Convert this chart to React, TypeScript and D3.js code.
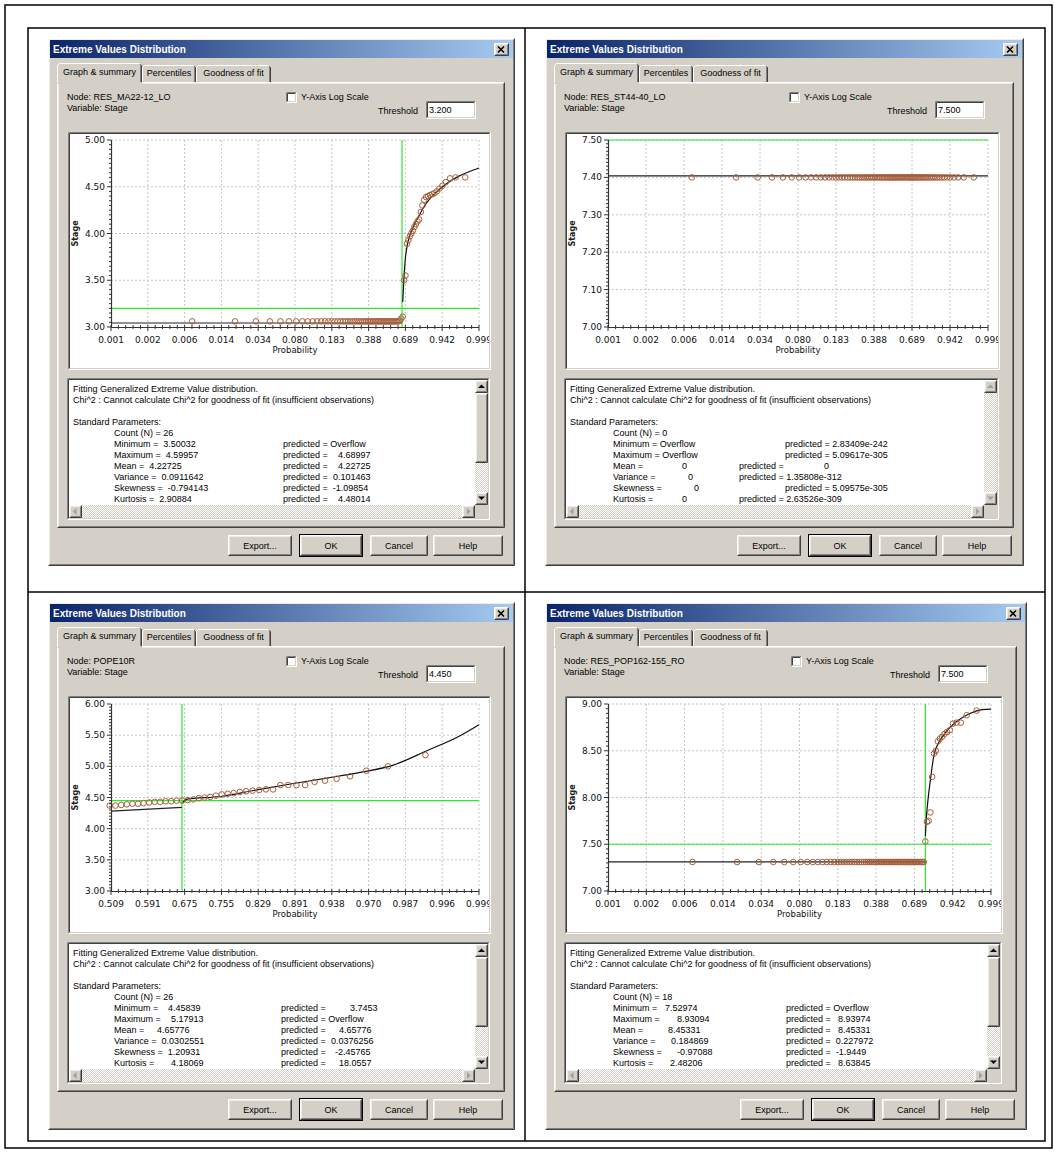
import React from "react";
import * as d3 from "d3";

// ---------- data ----------

// plotting positions (non-exceedance probability) of the 80 ranked observations
const plotPositions = [
  0.0070, 0.0195, 0.0320, 0.0444, 0.0569, 0.0694, 0.0819, 0.0944, 0.1068, 0.1193,
  0.1318, 0.1443, 0.1568, 0.1692, 0.1817, 0.1942, 0.2067, 0.2192, 0.2317, 0.2441,
  0.2566, 0.2691, 0.2816, 0.2941, 0.3065, 0.3190, 0.3315, 0.3440, 0.3565, 0.3689,
  0.3814, 0.3939, 0.4064, 0.4189, 0.4314, 0.4438, 0.4563, 0.4688, 0.4813, 0.4938,
  0.5062, 0.5187, 0.5312, 0.5437, 0.5562, 0.5686, 0.5811, 0.5936, 0.6061, 0.6186,
  0.6311, 0.6435, 0.6560, 0.6685, 0.6810, 0.6935, 0.7059, 0.7184, 0.7309, 0.7434,
  0.7559, 0.7683, 0.7808, 0.7933, 0.8058, 0.8183, 0.8308, 0.8432, 0.8557, 0.8682,
  0.8807, 0.8932, 0.9056, 0.9181, 0.9306, 0.9431, 0.9556, 0.9681, 0.9805, 0.9930,
];

const probTicksFull = ["0.001", "0.002", "0.006", "0.014", "0.034", "0.080", "0.183", "0.388", "0.689", "0.942", "0.999"];
const probTicksUpper = ["0.509", "0.591", "0.675", "0.755", "0.829", "0.891", "0.938", "0.970", "0.987", "0.996", "0.999"];

const tlStageTicks = [3.0, 3.5, 4.0, 4.5, 5.0];
const trStageTicks = [7.0, 7.1, 7.2, 7.3, 7.4, 7.5];
const blStageTicks = [3.0, 3.5, 4.0, 4.5, 5.0, 5.5, 6.0];
const brStageTicks = [7.0, 7.5, 8.0, 8.5, 9.0];

// observed stages, ranked (same order as plotPositions)
const tlStage = [
  3.06, 3.06, 3.06, 3.06, 3.06, 3.06, 3.06, 3.06, 3.06, 3.06,
  3.06, 3.06, 3.06, 3.06, 3.06, 3.06, 3.06, 3.06, 3.06, 3.06,
  3.06, 3.06, 3.06, 3.06, 3.06, 3.06, 3.06, 3.06, 3.06, 3.06,
  3.06, 3.06, 3.06, 3.06, 3.06, 3.06, 3.06, 3.06, 3.06, 3.06,
  3.06, 3.06, 3.06, 3.06, 3.06, 3.06, 3.06, 3.06, 3.06, 3.06,
  3.06, 3.07, 3.09, 3.11, 3.50, 3.55, 3.89, 3.93, 3.97, 4.00,
  4.03, 4.07, 4.10, 4.13, 4.15, 4.23, 4.30, 4.36, 4.39, 4.40,
  4.41, 4.42, 4.43, 4.45, 4.48, 4.51, 4.55, 4.59, 4.60, 4.60,
];
const trStage = [
  7.40, 7.40, 7.40, 7.40, 7.40, 7.40, 7.40, 7.40, 7.40, 7.40,
  7.40, 7.40, 7.40, 7.40, 7.40, 7.40, 7.40, 7.40, 7.40, 7.40,
  7.40, 7.40, 7.40, 7.40, 7.40, 7.40, 7.40, 7.40, 7.40, 7.40,
  7.40, 7.40, 7.40, 7.40, 7.40, 7.40, 7.40, 7.40, 7.40, 7.40,
  7.40, 7.40, 7.40, 7.40, 7.40, 7.40, 7.40, 7.40, 7.40, 7.40,
  7.40, 7.40, 7.40, 7.40, 7.40, 7.40, 7.40, 7.40, 7.40, 7.40,
  7.40, 7.40, 7.40, 7.40, 7.40, 7.40, 7.40, 7.40, 7.40, 7.40,
  7.40, 7.40, 7.40, 7.40, 7.40, 7.40, 7.40, 7.40, 7.40, 7.40,
];
// only ranks 41..80 fall inside this chart's probability range
const blStage = [
  4.37, 4.37, 4.38, 4.39, 4.40, 4.40, 4.41, 4.42, 4.43, 4.43,
  4.44, 4.44, 4.45, 4.45, 4.46, 4.47, 4.49, 4.50, 4.51, 4.53,
  4.55, 4.56, 4.57, 4.59, 4.60, 4.61, 4.62, 4.63, 4.63, 4.70,
  4.70, 4.70, 4.70, 4.75, 4.77, 4.80, 4.84, 4.93, 5.00, 5.18,
];
const brStage = [
  7.31, 7.31, 7.31, 7.31, 7.31, 7.31, 7.31, 7.31, 7.31, 7.31,
  7.31, 7.31, 7.31, 7.31, 7.31, 7.31, 7.31, 7.31, 7.31, 7.31,
  7.31, 7.31, 7.31, 7.31, 7.31, 7.31, 7.31, 7.31, 7.31, 7.31,
  7.31, 7.31, 7.31, 7.31, 7.31, 7.31, 7.31, 7.31, 7.31, 7.31,
  7.31, 7.31, 7.31, 7.31, 7.31, 7.31, 7.31, 7.31, 7.31, 7.31,
  7.31, 7.31, 7.31, 7.31, 7.31, 7.31, 7.31, 7.31, 7.31, 7.31,
  7.31, 7.31, 7.53, 7.74, 7.75, 7.84, 8.22, 8.47, 8.50, 8.60,
  8.63, 8.65, 8.68, 8.70, 8.72, 8.79, 8.80, 8.80, 8.88, 8.93,
];

// fitted lines (below threshold, and the GEV fit above it)
const tlLowerProb = [0.001, 0.663];
const tlLowerStage = [3.043, 3.043];
const tlFitProb = [0.669, 0.6778, 0.6924, 0.7151, 0.7488, 0.8022, 0.8504, 0.9104, 0.9532, 0.9852, 0.9952, 0.999];
const tlFitStage = [3.268, 3.486, 3.736, 3.914, 4.04, 4.182, 4.307, 4.432, 4.522, 4.611, 4.658, 4.701];

const trLowerProb = [0.001, 0.999];
const trLowerStage = [7.404, 7.404];

const blLowerProb = [0.509, 0.668];
const blLowerStage = [4.281, 4.34];
const blFitProb = [0.6695, 0.6793, 0.7526, 0.8265, 0.8887, 0.9327, 0.9636, 0.9829, 0.9933, 0.99786, 0.999];
const blFitStage = [4.42, 4.473, 4.516, 4.623, 4.725, 4.811, 4.902, 5.02, 5.25, 5.491, 5.668];

const brLowerProb = [0.001, 0.7812];
const brLowerStage = [7.311, 7.311];
const brFitProb = [0.7812, 0.7863, 0.8014, 0.819, 0.8421, 0.874, 0.9108, 0.9524, 0.9841, 0.99642, 0.999];
const brFitStage = [7.589, 7.732, 7.982, 8.196, 8.446, 8.589, 8.696, 8.804, 8.893, 8.939, 8.946];

const nodeNames = ["RES_MA22-12_LO", "RES_ST44-40_LO", "POPE10R", "RES_POP162-155_RO"];
const thresholds = ["3.200", "7.500", "4.450", "7.500"];
const thresholdStages = [3.2, 7.5, 4.45, 7.5];
const thresholdProbs = [0.663, null, 0.668, 0.781];
const counts = ["26", "0", "26", "18"];

const statLabels = ["Minimum =", "Maximum =", "Mean =", "Variance =", "Skewness =", "Kurtosis ="];
const tlObserved = ["3.50032", "4.59957", "4.22725", "0.0911642", "-0.794143", "2.90884"];
const tlPredicted = ["Overflow", "4.68997", "4.22725", "0.101463", "-1.09854", "4.48014"];
const trObserved = ["Overflow", "Overflow", "0", "0", "0", "0"];
const trPredicted = ["2.83409e-242", "5.09617e-305", "0", "1.35808e-312", "5.09575e-305", "2.63526e-309"];
const blObserved = ["4.45839", "5.17913", "4.65776", "0.0302551", "1.20931", "4.18069"];
const blPredicted = ["3.7453", "Overflow", "4.65776", "0.0376256", "-2.45765", "18.0557"];
const brObserved = ["7.52974", "8.93094", "8.45331", "0.184869", "-0.97088", "2.48206"];
const brPredicted = ["Overflow", "8.93974", "8.45331", "0.227972", "-1.9449", "8.63845"];

// ---------- look ----------
const UI_FONT = "'Liberation Sans', Arial, sans-serif";
const CHART_FONT = "'DejaVu Sans', Verdana, sans-serif";
const UI_SIZE = 9;
const FACE = "#d4d0c8";
const GREEN = "#2ee82e";
const POINT = "#a65e3b";

// probability paper: x is linear in ln(-ln(1-p))
const gumbelZ = (p: number) => Math.log(-Math.log(1 - p));

let measureCtx: CanvasRenderingContext2D | null = null;
function textWidth(s: string) {
  if (!measureCtx) measureCtx = document.createElement("canvas").getContext("2d");
  if (!measureCtx) return s.length * UI_SIZE * 0.5;
  measureCtx.font = `${UI_SIZE}px "Liberation Sans", Arial, sans-serif`;
  return measureCtx.measureText(s).width;
}

const panels = [
  {
    x: 48, y: 38, w: 467, labelX: 47,
    valX: [90, 95, 81, 84, 92, 91], predX: [216, 216, 216, 216, 216, 216], predValX: [null, 271, 271, 266, 265, 271],
    observed: tlObserved, predicted: tlPredicted, scroll: true,
    chart: {
      pMin: 0.001, pMax: 0.999, xLabels: probTicksFull, yTicks: tlStageTicks, yMinor: 0.05,
      points: [plotPositions, tlStage], lower: [tlLowerProb, tlLowerStage], fit: [tlFitProb, tlFitStage],
    },
  },
  {
    x: 545, y: 38, w: 479, labelX: 49,
    valX: [null, null, 118, 124, 130, 118], predX: [221, 221, 175, 175, 221, 175], predValX: [null, null, 260, null, null, null],
    observed: trObserved, predicted: trPredicted, scroll: false,
    chart: {
      pMin: 0.001, pMax: 0.999, xLabels: probTicksFull, yTicks: trStageTicks, yMinor: 0.01,
      points: [plotPositions, trStage], lower: [trLowerProb, trLowerStage], fit: null,
    },
  },
  {
    x: 48, y: 602, w: 467, labelX: 47,
    valX: [101, 104, 90, 83, 99, 104], predX: [214, 214, 214, 214, 214, 214], predValX: [283, null, 272, 264, 268, 272],
    observed: blObserved, predicted: blPredicted, scroll: true,
    chart: {
      pMin: 0.509, pMax: 0.999, xLabels: probTicksUpper, yTicks: blStageTicks, yMinor: 0.05,
      points: [plotPositions.slice(40), blStage], lower: [blLowerProb, blLowerStage], fit: [blFitProb, blFitStage],
    },
  },
  {
    x: 545, y: 602, w: 482, labelX: 49,
    valX: [101, 113, 104, 107, 113, 106], predX: [222, 222, 222, 222, 222, 222], predValX: [null, 274, 274, 268, 268, 274],
    observed: brObserved, predicted: brPredicted, scroll: true,
    chart: {
      pMin: 0.001, pMax: 0.999, xLabels: probTicksFull, yTicks: brStageTicks, yMinor: 0.05,
      points: [plotPositions, brStage], lower: [brLowerProb, brLowerStage], fit: [brFitProb, brFitStage],
    },
  },
];

function Bevel({ x, y, w, h, kind, fill }: any) {
  const c = kind === "raised"
    ? ["#ffffff", "#404040", "#eeece8", "#808080"]
    : ["#808080", "#ffffff", "#404040", FACE];
  const x1 = x + 0.5, y1 = y + 0.5, x2 = x + w - 0.5, y2 = y + h - 0.5;
  return (
    <g>
      <rect x={x} y={y} width={w} height={h} fill={fill} />
      <path d={`M${x1},${y2}V${y1}H${x2}`} stroke={c[0]} fill="none" />
      <path d={`M${x1},${y2}H${x2}V${y1}`} stroke={c[1]} fill="none" />
      <path d={`M${x1 + 1},${y2 - 1}V${y1 + 1}H${x2 - 1}`} stroke={c[2]} fill="none" />
      <path d={`M${x1 + 1},${y2 - 1}H${x2 - 1}V${y1 + 1}`} stroke={c[3]} fill="none" />
    </g>
  );
}

function Button({ x, y, w, label, isDefault }: any) {
  return (
    <g>
      {isDefault && <rect x={x - 0.5} y={y - 0.5} width={w + 1} height={22} fill="none" stroke="#000" />}
      <Bevel x={x} y={y} w={w} h={21} kind="raised" fill={FACE} />
      <text x={x + w / 2} y={y + 14} textAnchor="middle">{label}</text>
    </g>
  );
}

function Tab({ x, y, w, bottom, label, selected }: any) {
  const x1 = x + 0.5, x2 = x + w - 0.5, y1 = y + 0.5;
  return (
    <g>
      <rect x={x} y={y} width={w} height={bottom - y + (selected ? 2 : 0)} fill={FACE} />
      <path d={`M${x1},${bottom + (selected ? 1 : 0)}V${y1 + 2}L${x1 + 2},${y1}H${x2 - 2}`} stroke="#fff" fill="none" />
      <path d={`M${x2 - 1},${y1 + 1}V${bottom}`} stroke="#808080" fill="none" />
      <path d={`M${x2 - 1},${y1 + 1}L${x2},${y1 + 2}V${bottom}`} stroke="#404040" fill="none" />
      <text x={x + w / 2} y={y + (selected ? 12 : 11)} textAnchor="middle">{label}</text>
    </g>
  );
}

function Arrow({ cx, cy, dir, color }: any) {
  const d = {
    up: `M${cx - 3.5},${cy + 2}L${cx + 3.5},${cy + 2}L${cx},${cy - 1.5}Z`,
    down: `M${cx - 3.5},${cy - 1.5}L${cx + 3.5},${cy - 1.5}L${cx},${cy + 2}Z`,
    left: `M${cx + 1.5},${cy - 3.5}L${cx + 1.5},${cy + 3.5}L${cx - 2},${cy}Z`,
    right: `M${cx - 1.5},${cy - 3.5}L${cx - 1.5},${cy + 3.5}L${cx + 2},${cy}Z`,
  }[dir as "up"];
  return <path d={d} fill={color} />;
}

function TextBox({ x, y, w, h, enabled, children }: any) {
  const s = 13;
  const vx = x + w - 2 - s, vy = y + 2, vh = h - 4 - s;
  const hx = x + 2, hy = y + h - 2 - s, hw = w - 4 - s;
  const arrowCol = enabled ? "#000" : "#a0a0a0";
  return (
    <g>
      <Bevel x={x} y={y} w={w} h={h} kind="sunken" fill="#fff" />
      {children}
      <rect x={vx} y={vy} width={s} height={vh} fill="url(#dither)" />
      <Bevel x={vx} y={vy} w={s} h={s} kind="raised" fill={FACE} />
      <Arrow cx={vx + 6.5} cy={vy + 6} dir="up" color={arrowCol} />
      {enabled && <Bevel x={vx} y={vy + s} w={s} h={70} kind="raised" fill={FACE} />}
      <Bevel x={vx} y={vy + vh - s} w={s} h={s} kind="raised" fill={FACE} />
      <Arrow cx={vx + 6.5} cy={vy + vh - s + 6} dir="down" color={arrowCol} />
      <rect x={hx} y={hy} width={hw} height={s} fill="url(#dither)" />
      <Bevel x={hx} y={hy} w={s} h={s} kind="raised" fill={FACE} />
      <Arrow cx={hx + 6} cy={hy + 6.5} dir="left" color="#a0a0a0" />
      <Bevel x={hx + hw - s} y={hy} w={s} h={s} kind="raised" fill={FACE} />
      <Arrow cx={hx + hw - s + 6.5} cy={hy + 6.5} dir="right" color="#a0a0a0" />
      <rect x={vx} y={hy} width={s} height={s} fill={FACE} />
    </g>
  );
}

function ProbChart({ bx, by, bw, bh, c, id, thrStage, thrProb }: any) {
  const ox = bx + 43, oy = by + 8, pw = bw - 55, ph = 187;
  const zScale = d3.scaleLinear().domain([gumbelZ(c.pMin), gumbelZ(c.pMax)]).range([0, pw]);
  const px = (p: number) => zScale(gumbelZ(p));
  const y0 = c.yTicks[0], y1 = c.yTicks[c.yTicks.length - 1];
  const ys = d3.scaleLinear().domain([y0, y1]).range([ph, 0]);
  const xt = d3.scalePoint<string>().domain(c.xLabels).range([0, pw]);
  const nMinX = (c.xLabels.length - 1) * 5;
  const minorX = d3.range(nMinX + 1).map((i) => (i * pw) / nMinX);
  const nMinY = Math.round((y1 - y0) / c.yMinor);
  const minorY = d3.range(nMinY + 1).map((i) => y0 + i * c.yMinor);
  const line = d3.line<[number, number]>().x((d) => px(d[0])).y((d) => ys(d[1])).curve(d3.curveMonotoneX);
  const pts = d3.zip(c.points[0], c.points[1]) as [number, number][];
  const lower = d3.zip(c.lower[0], c.lower[1]) as [number, number][];
  const fit = c.fit ? (d3.zip(c.fit[0], c.fit[1]) as [number, number][]) : null;
  const fmt = d3.format(".2f");
  return (
    <g>
      <Bevel x={bx} y={by} w={bw} h={bh} kind="sunken" fill="#fff" />
      <defs>
        <clipPath id={id}>
          <rect x={bx + 2} y={by + 2} width={bw - 4} height={bh - 4} />
        </clipPath>
      </defs>
      <g clipPath={`url(#${id})`} fontFamily={CHART_FONT}>
        <text transform={`translate(${bx + 10},${oy + ph / 2}) rotate(-90)`} textAnchor="middle" fontSize={8} fontWeight="bold" fill="#222">Stage</text>
        <g transform={`translate(${ox},${oy})`}>
          {c.xLabels.slice(1).map((l: string) => (
            <line key={l} x1={xt(l)} x2={xt(l)} y1={0} y2={ph} stroke="#c4c4c4" strokeDasharray="2,2" />
          ))}
          {c.yTicks.slice(1).map((v: number) => (
            <line key={v} x1={0} x2={pw} y1={ys(v)} y2={ys(v)} stroke="#c4c4c4" strokeDasharray="2,2" />
          ))}
          <line x1={0} x2={pw} y1={ys(thrStage)} y2={ys(thrStage)} stroke={GREEN} strokeWidth={1.2} />
          {thrProb != null && (
            <line x1={px(thrProb)} x2={px(thrProb)} y1={0} y2={ph} stroke={GREEN} strokeWidth={1.2} />
          )}
          <path d={line(lower) || ""} fill="none" stroke="#222" strokeWidth={1.2} />
          {fit && <path d={line(fit) || ""} fill="none" stroke="#111" strokeWidth={1.2} />}
          {pts.map((d, i) => (
            <circle key={i} cx={px(d[0])} cy={ys(d[1])} r={2.8} fill="none" stroke={POINT} strokeWidth={1} />
          ))}
          <line x1={0.5} x2={0.5} y1={0} y2={ph} stroke="#333" strokeWidth={1.2} />
          <line x1={0} x2={pw} y1={ph + 0.5} y2={ph + 0.5} stroke="#333" strokeWidth={1.2} />
          {minorY.map((v, i) => (
            <line key={i} x1={i % 10 === 0 ? -4 : -2} x2={0} y1={ys(v)} y2={ys(v)} stroke="#333" />
          ))}
          {minorX.map((v, i) => (
            <line key={i} x1={v} x2={v} y1={ph - 2} y2={ph + (i % 5 === 0 ? 4 : 2)} stroke="#333" />
          ))}
          {c.yTicks.map((v: number) => (
            <text key={v} x={-6} y={ys(v) + 3} textAnchor="end" fontSize={9} fill="#111">{fmt(v)}</text>
          ))}
          {c.xLabels.map((l: string) => (
            <text key={l} x={xt(l)} y={ph + 16} textAnchor="middle" fontSize={9} fill="#111">{l}</text>
          ))}
          <text x={pw / 2} y={ph + 26} textAnchor="middle" fontSize={8.5} fill="#111">Probability</text>
        </g>
      </g>
    </g>
  );
}

function Dialog({ p, idx }: any) {
  const { x, y, w } = p;
  const h = 528;
  const cbX = Math.round(w * 0.51);
  const tbx = x + 19, tby = y + 340, tbw = w - 44;
  const base = (i: number) => tby + 14 + i * 11;
  return (
    <g fontFamily={UI_FONT} fontSize={UI_SIZE} fill="#000">
      <Bevel x={x} y={y} w={w} h={h} kind="raised" fill={FACE} />
      <rect x={x + 2} y={y + 2} width={w - 4} height={18} fill="url(#titleGrad)" />
      <text x={x + 5} y={y + 14.5} fill="#fff" fontWeight="bold" fontSize={10}>Extreme Values Distribution</text>
      <Bevel x={x + w - 21} y={y + 5} w={15} h={13} kind="raised" fill={FACE} />
      <path d={`M${x + w - 17},${y + 8.5}l6,6M${x + w - 11},${y + 8.5}l-6,6`} stroke="#000" strokeWidth={1.6} />

      <Bevel x={x + 9} y={y + 44} w={w - 19} h={446} kind="raised" fill={FACE} />
      <Tab x={x + 94} y={y + 27} w={54} bottom={y + 44} label="Percentiles" />
      <Tab x={x + 148} y={y + 27} w={75} bottom={y + 44} label="Goodness of fit" />
      <Tab x={x + 9} y={y + 25} w={85} bottom={y + 44} label="Graph & summary" selected />

      <text x={x + 19} y={y + 62}>Node: {nodeNames[idx]}</text>
      <text x={x + 19} y={y + 73}>Variable: Stage</text>
      <Bevel x={x + cbX} y={y + 54} w={11} h={11} kind="sunken" fill="#fff" />
      <text x={x + cbX + 15} y={y + 62}>Y-Axis Log Scale</text>
      <text x={x + w - 97} y={y + 76} textAnchor="end">Threshold</text>
      <Bevel x={x + w - 89} y={y + 63} w={50} h={18} kind="sunken" fill="#fff" />
      <text x={x + w - 86} y={y + 75}>{thresholds[idx]}</text>

      <ProbChart bx={x + 20} by={y + 94} bw={w - 44} bh={238} c={p.chart} id={`clip${idx}`}
        thrStage={thresholdStages[idx]} thrProb={thresholdProbs[idx]} />

      <TextBox x={tbx} y={tby} w={tbw} h={142} enabled={p.scroll}>
        <text x={tbx + 6} y={base(0)}>Fitting Generalized Extreme Value distribution.</text>
        <text x={tbx + 6} y={base(1)}>Chi^2 : Cannot calculate Chi^2 for goodness of fit (insufficient observations)</text>
        <text x={tbx + 6} y={base(3)}>Standard Parameters:</text>
        <text x={tbx + p.labelX} y={base(4)}>Count (N) = {counts[idx]}</text>
        {statLabels.map((lab, i) => {
          const yy = base(5 + i);
          const vx = p.valX[i], pvx = p.predValX[i];
          const labX = tbx + p.labelX;
          const valueX = vx == null ? 0 : Math.max(tbx + vx, labX + textWidth(lab) + 5);
          return (
            <g key={lab}>
              {vx == null ? (
                <text x={labX} y={yy}>{lab} {p.observed[i]}</text>
              ) : (
                <>
                  <text x={labX} y={yy}>{lab}</text>
                  <text x={valueX} y={yy}>{p.observed[i]}</text>
                </>
              )}
              {pvx == null ? (
                <text x={tbx + p.predX[i]} y={yy}>predicted = {p.predicted[i]}</text>
              ) : (
                <>
                  <text x={tbx + p.predX[i]} y={yy}>predicted =</text>
                  <text x={Math.max(tbx + pvx, tbx + p.predX[i] + textWidth("predicted =") + 5)} y={yy}>{p.predicted[i]}</text>
                </>
              )}
            </g>
          );
        })}
      </TextBox>

      <Button x={x + w - 287} y={y + 497} w={64} label="Export..." />
      <Button x={x + w - 215} y={y + 497} w={62} label="OK" isDefault />
      <Button x={x + w - 145} y={y + 497} w={58} label="Cancel" />
      <Button x={x + w - 82} y={y + 497} w={70} label="Help" />
    </g>
  );
}

export default function App() {
  return (
    <svg width={1055} height={1152} style={{ position: "absolute", left: 0, top: 0, display: "block" }}>
      <defs>
        <linearGradient id="titleGrad" x1="0" x2="1" y1="0" y2="0">
          <stop offset="0" stopColor="#0a246a" />
          <stop offset="1" stopColor="#a6caf0" />
        </linearGradient>
        <pattern id="dither" width={2} height={2} patternUnits="userSpaceOnUse">
          <rect width={2} height={2} fill={FACE} />
          <rect width={1} height={1} fill="#fff" />
          <rect x={1} y={1} width={1} height={1} fill="#fff" />
        </pattern>
      </defs>
      <rect width={1055} height={1152} fill="#fff" />
      <rect x={5} y={5} width={1047} height={1143} fill="none" stroke="#000" strokeWidth={1.5} />
      <rect x={28} y={28} width={1017} height={1113} fill="none" stroke="#000" strokeWidth={1.5} />
      <line x1={525} x2={525} y1={28} y2={1141} stroke="#000" strokeWidth={1.5} />
      <line x1={28} x2={1045} y1={592} y2={592} stroke="#000" strokeWidth={1.5} />
      {panels.map((p, i) => (
        <Dialog key={i} p={p} idx={i} />
      ))}
    </svg>
  );
}
